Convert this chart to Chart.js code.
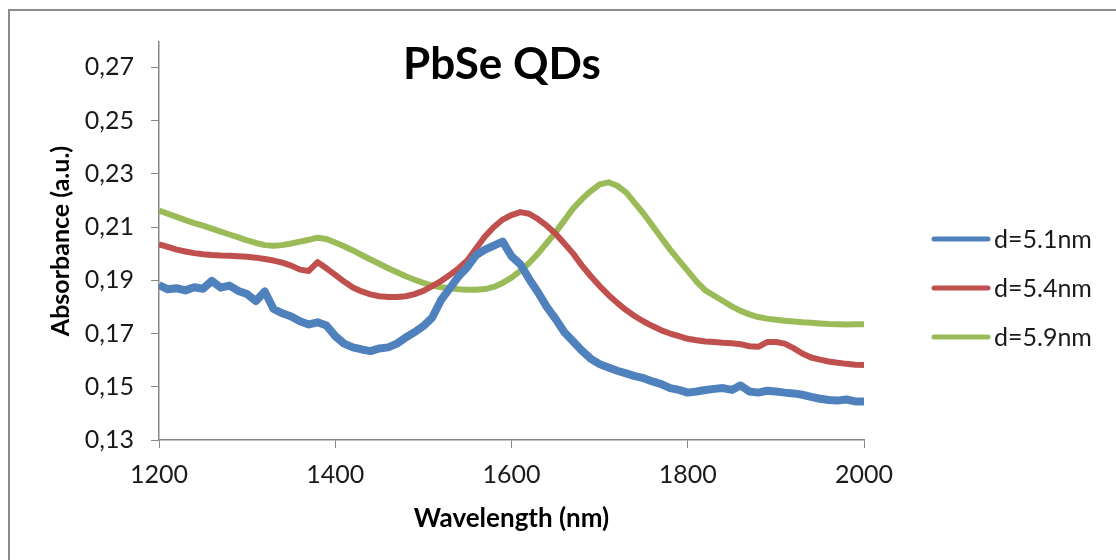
<!DOCTYPE html>
<html>
<head>
<meta charset="utf-8">
<script src="https://cdn.jsdelivr.net/npm/chart.js@4"></script>
<style>
  body { margin: 0; background: #fff; }
  #wrap { position: relative; width: 1116px; height: 560px; overflow: hidden; }
  #frame { position: absolute; left: 8px; top: 9px; width: 1200px; height: 700px;
           border-left: 2px solid #8c8c8c; border-top: 2px solid #8c8c8c; }
  canvas { position: absolute; left: 0; top: 0; }
</style>
</head>
<body>
<div id="wrap">
  <div id="frame"></div>
  <canvas id="absChart" width="1116" height="560"></canvas>
</div>
<script>
// wavelength grid (nm)
const wavelengths = [
  1200, 1210, 1220, 1230, 1240, 1250, 1260, 1270, 1280, 1290,
  1300, 1310, 1320, 1330, 1340, 1350, 1360, 1370, 1380, 1390,
  1400, 1410, 1420, 1430, 1440, 1450, 1460, 1470, 1480, 1490,
  1500, 1510, 1520, 1530, 1540, 1550, 1560, 1570, 1580, 1590,
  1600, 1610, 1620, 1630, 1640, 1650, 1660, 1670, 1680, 1690,
  1700, 1710, 1720, 1730, 1740, 1750, 1760, 1770, 1780, 1790,
  1800, 1810, 1820, 1830, 1840, 1850, 1860, 1870, 1880, 1890,
  1900, 1910, 1920, 1930, 1940, 1950, 1960, 1970, 1980, 1990,
  2000
];

const seriesLabels = ['d=5.1nm', 'd=5.4nm', 'd=5.9nm'];

const abs51 = [
  0.1882, 0.1866, 0.1870, 0.1862, 0.1874, 0.1868, 0.1898, 0.1872, 0.1880, 0.1860,
  0.1848, 0.1822, 0.1858, 0.1792, 0.1776, 0.1764, 0.1746, 0.1734, 0.1742, 0.1730,
  0.1690, 0.1662, 0.1648, 0.1640, 0.1634, 0.1644, 0.1648, 0.1662, 0.1685, 0.1705,
  0.1728, 0.1760, 0.1825, 0.1870, 0.1915, 0.1950, 0.1995, 0.2015, 0.2030, 0.2045,
  0.1990, 0.1960, 0.1905, 0.1855, 0.1800, 0.1755, 0.1705, 0.1670, 0.1635, 0.1605,
  0.1585, 0.1572, 0.1560, 0.1550, 0.1540, 0.1532, 0.1520, 0.1510, 0.1495, 0.1488,
  0.1478, 0.1482, 0.1488, 0.1492, 0.1495, 0.1488, 0.1505, 0.1482, 0.1478, 0.1485,
  0.1482, 0.1478, 0.1475, 0.1470, 0.1462, 0.1455, 0.1450, 0.1448, 0.1452, 0.1445,
  0.1445
];

const abs54 = [
  0.2035, 0.2025, 0.2015, 0.2008, 0.2002, 0.1998, 0.1995, 0.1993, 0.1992, 0.1990,
  0.1988, 0.1985, 0.1980, 0.1974, 0.1966, 0.1955, 0.1940, 0.1935, 0.1968, 0.1945,
  0.1920, 0.1895, 0.1873, 0.1858, 0.1847, 0.1840, 0.1837, 0.1837, 0.1840, 0.1848,
  0.1860, 0.1878, 0.1897, 0.1920, 0.1945, 0.1975, 0.2020, 0.2065, 0.2100, 0.2128,
  0.2145, 0.2156, 0.2150, 0.2130, 0.2105, 0.2075, 0.2038, 0.2000, 0.1955, 0.1915,
  0.1878, 0.1845, 0.1815, 0.1788, 0.1765, 0.1745, 0.1728, 0.1712, 0.1700, 0.1690,
  0.1680, 0.1675, 0.1670, 0.1668, 0.1665, 0.1663, 0.1660, 0.1652, 0.1650, 0.1668,
  0.1668, 0.1662, 0.1645, 0.1625, 0.1610, 0.1602, 0.1595, 0.1590, 0.1586, 0.1583,
  0.1582
];

const abs59 = [
  0.2162, 0.2150, 0.2138, 0.2126, 0.2115, 0.2105, 0.2094, 0.2083, 0.2072, 0.2061,
  0.2050, 0.2040, 0.2032, 0.2030, 0.2032, 0.2038, 0.2045, 0.2052, 0.2060, 0.2055,
  0.2042, 0.2028, 0.2012, 0.1995, 0.1978, 0.1962, 0.1945, 0.1930, 0.1915, 0.1902,
  0.1890, 0.1880, 0.1874, 0.1870, 0.1866, 0.1864, 0.1864, 0.1867, 0.1875, 0.1890,
  0.1910, 0.1935, 0.1965, 0.2000, 0.2040, 0.2080, 0.2125, 0.2170, 0.2205, 0.2235,
  0.2260, 0.2268, 0.2255, 0.2230, 0.2190, 0.2150, 0.2105, 0.2060, 0.2015, 0.1975,
  0.1935, 0.1895, 0.1862, 0.1842, 0.1822, 0.1802, 0.1785, 0.1772, 0.1762, 0.1756,
  0.1752, 0.1748, 0.1745, 0.1742, 0.1740, 0.1738, 0.1736, 0.1735, 0.1734, 0.1735,
  0.1735
];

const yTicks = [0.13, 0.15, 0.17, 0.19, 0.21, 0.23, 0.25, 0.27];
const xTicks = [1200, 1400, 1600, 1800, 2000];

const FONT = 'Lato, "Open Sans", sans-serif';
const AXIS_GREY = '#868686';

function toPoints(values) {
    return values.map((v, i) => ({ x: wavelengths[i], y: v }));
}

// title + legend drawn by hand so the plot area stays where Excel put it
const overlayPlugin = {
    id: 'overlay',
    afterDraw(chart) {
        const ctx = chart.ctx;
        ctx.save();
        ctx.fillStyle = '#000';
        ctx.font = 'bold 44px ' + FONT;
        ctx.textAlign = 'center';
        ctx.textBaseline = 'middle';
        ctx.fillText('PbSe QDs', 502, 65);

        const rows = [239, 288, 337];
        chart.data.datasets.forEach((ds, i) => {
            ctx.strokeStyle = ds.borderColor;
            ctx.lineWidth = 5;
            ctx.lineCap = 'round';
            ctx.beginPath();
            ctx.moveTo(934, rows[i]);
            ctx.lineTo(988, rows[i]);
            ctx.stroke();
            ctx.fillStyle = '#1a1a1a';
            ctx.font = '25px ' + FONT;
            ctx.textAlign = 'left';
            ctx.fillText(ds.label, 994, rows[i] + 1);
        });
        ctx.restore();
    }
};

const ctx = document.getElementById('absChart').getContext('2d');

new Chart(ctx, {
    type: 'line',
    data: {
        datasets: [
            { label: seriesLabels[0], data: toPoints(abs51), borderColor: '#4F81BD', borderWidth: 8 },
            { label: seriesLabels[1], data: toPoints(abs54), borderColor: '#C0504D', borderWidth: 6 },
            { label: seriesLabels[2], data: toPoints(abs59), borderColor: '#9BBB59', borderWidth: 6 }
        ]
    },
    options: {
        responsive: false,
        animation: false,
        parsing: false,
        elements: {
            point: { radius: 0 },
            line: { tension: 0, borderJoinStyle: 'round', borderCapStyle: 'butt' }
        },
        layout: { padding: { top: 42, right: 252, bottom: 0, left: 0 } },
        scales: {
            x: {
                type: 'linear',
                min: 1200,
                max: 2000,
                afterFit: s => { s.height = 120; },
                afterBuildTicks: s => { s.ticks = xTicks.map(v => ({ value: v })); },
                ticks: {
                    color: '#1a1a1a',
                    font: { family: FONT, size: 25 },
                    padding: 12,
                    maxRotation: 0,
                    callback: v => String(v)
                },
                grid: { drawOnChartArea: false, tickLength: 8, color: AXIS_GREY },
                border: { color: AXIS_GREY, width: 1.5 },
                title: {
                    display: true,
                    text: 'Wavelength (nm)',
                    color: '#000',
                    font: { family: FONT, size: 26, weight: 'bold' },
                    padding: { top: 0, bottom: 26 }
                }
            },
            y: {
                min: 0.13,
                max: 0.2795,
                afterFit: s => { s.width = 159; },
                afterBuildTicks: s => { s.ticks = yTicks.map(v => ({ value: v })); },
                ticks: {
                    color: '#1a1a1a',
                    font: { family: FONT, size: 25 },
                    padding: 17,
                    callback: v => v.toFixed(2).replace('.', ',')
                },
                grid: { drawOnChartArea: false, tickLength: 8, color: AXIS_GREY },
                border: { color: AXIS_GREY, width: 1.5 },
                title: {
                    display: true,
                    text: 'Absorbance (a.u.)',
                    color: '#000',
                    font: { family: FONT, size: 25, weight: 'bold' },
                    padding: { top: 46, bottom: 0 }
                }
            }
        },
        plugins: {
            legend: { display: false },
            tooltip: { enabled: false }
        }
    },
    plugins: [overlayPlugin]
});
</script>
</body>
</html>
